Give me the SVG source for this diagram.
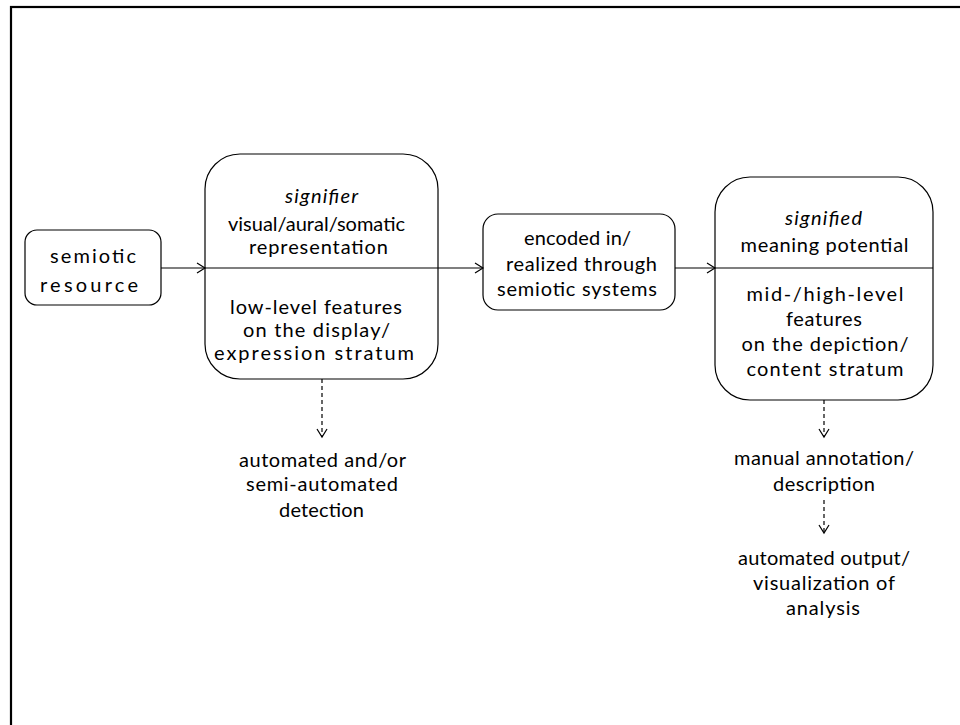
<svg xmlns="http://www.w3.org/2000/svg" width="960" height="725" viewBox="0 0 960 725">
<style>
.box{fill:#fff;stroke:#000;stroke-width:1.2}
.div{stroke:#000;stroke-width:1.2}
.t{font-family:Lato,"Open Sans","Liberation Sans",sans-serif;font-size:20px;fill:#000;text-anchor:middle}
.i{font-style:italic}
.c{stroke:#000;stroke-width:1.2;fill:none}
.d{stroke-dasharray:4 3}
</style>
<defs>
<marker id="ah" markerUnits="userSpaceOnUse" markerWidth="12" markerHeight="14" refX="9" refY="6" orient="auto" viewBox="0 0 12 12">
<path d="M1,1 L9,6 L1,11" fill="none" stroke="#000" stroke-width="1.2"/>
</marker>
</defs>
<rect x="11" y="7" width="970" height="740" fill="none" stroke="#000" stroke-width="2.2"/>
<g id="semiotic-resource">
<rect class="box" x="25" y="230" width="136" height="75" rx="12"/>
<text class="t" x="93" y="263" textLength="86" lengthAdjust="spacing">semiotic</text>
<text class="t" x="89" y="292" textLength="98" lengthAdjust="spacing">resource</text>
</g>
<g id="signifier">
<rect class="box" x="205" y="154" width="233" height="225" rx="35"/>
<line class="div" x1="205" y1="268" x2="438" y2="268"/>
<text class="t i" x="321.5" y="203" textLength="73" lengthAdjust="spacing">signifier</text>
<text class="t" x="316.5" y="231" textLength="177" lengthAdjust="spacing">visual/aural/somatic</text>
<text class="t" x="318.5" y="254" textLength="139" lengthAdjust="spacing">representation</text>
<text class="t" x="316" y="314" textLength="172" lengthAdjust="spacing">low-level features</text>
<text class="t" x="316.5" y="337" textLength="147" lengthAdjust="spacing">on the display/</text>
<text class="t" x="314" y="360" textLength="200" lengthAdjust="spacing">expression stratum</text>
</g>
<g id="encoded">
<rect class="box" x="483" y="214" width="192" height="96" rx="15"/>
<text class="t" x="577.5" y="245" textLength="107" lengthAdjust="spacing">encoded in/</text>
<text class="t" x="581.5" y="271" textLength="151" lengthAdjust="spacing">realized through</text>
<text class="t" x="577" y="296" textLength="160" lengthAdjust="spacing">semiotic systems</text>
</g>
<g id="signified">
<rect class="box" x="715" y="177" width="218" height="223" rx="35"/>
<line class="div" x1="715" y1="268" x2="933" y2="268"/>
<text class="t i" x="823.5" y="225" textLength="77" lengthAdjust="spacing">signified</text>
<text class="t" x="824.5" y="252" textLength="168" lengthAdjust="spacing">meaning potential</text>
<text class="t" x="825" y="301" textLength="157" lengthAdjust="spacing">mid-/high-level</text>
<text class="t" x="824" y="326" textLength="76" lengthAdjust="spacing">features</text>
<text class="t" x="825" y="351" textLength="167" lengthAdjust="spacing">on the depiction/</text>
<text class="t" x="825" y="376" textLength="157" lengthAdjust="spacing">content stratum</text>
</g>
<g id="detection">
<text class="t" x="322.5" y="467" textLength="167" lengthAdjust="spacing">automated and/or</text>
<text class="t" x="322" y="491" textLength="152" lengthAdjust="spacing">semi-automated</text>
<text class="t" x="321.5" y="517" textLength="85" lengthAdjust="spacing">detection</text>
</g>
<g id="annotation">
<text class="t" x="824" y="465" textLength="180" lengthAdjust="spacing">manual annotation/</text>
<text class="t" x="824" y="491" textLength="102" lengthAdjust="spacing">description</text>
</g>
<g id="output">
<text class="t" x="824" y="565" textLength="172" lengthAdjust="spacing">automated output/</text>
<text class="t" x="824" y="590" textLength="142" lengthAdjust="spacing">visualization of</text>
<text class="t" x="823" y="615" textLength="74" lengthAdjust="spacing">analysis</text>
</g>
<g id="connectors">
<line class="c" x1="161" y1="268" x2="205" y2="268" marker-end="url(#ah)"/>
<line class="c" x1="438" y1="268" x2="483" y2="268" marker-end="url(#ah)"/>
<line class="c" x1="675" y1="268" x2="715" y2="268" marker-end="url(#ah)"/>
<line class="c d" x1="322" y1="379" x2="322" y2="437" marker-end="url(#ah)"/>
<line class="c d" x1="824" y1="400" x2="824" y2="437" marker-end="url(#ah)"/>
<line class="c d" x1="824" y1="500" x2="824" y2="533" marker-end="url(#ah)"/>
</g>
</svg>
